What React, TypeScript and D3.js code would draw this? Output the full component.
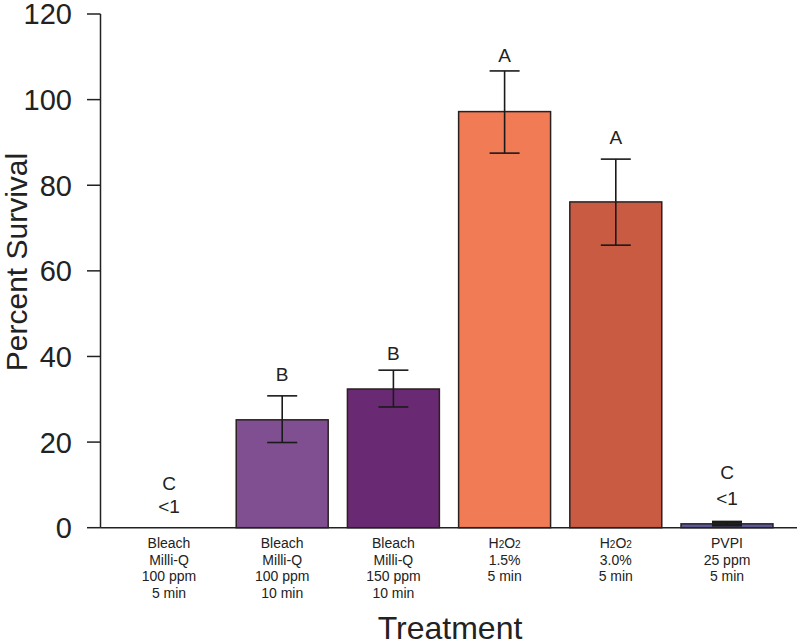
import React from "react";
import * as d3 from "d3";

const categories = ["b100_5", "b100_10", "b150_10", "h15", "h30", "pvpi"];
const labelLines = [
  ["Bleach", "Milli-Q", "100 ppm", "5 min"],
  ["Bleach", "Milli-Q", "100 ppm", "10 min"],
  ["Bleach", "Milli-Q", "150 ppm", "10 min"],
  ["H2O2", "1.5%", "5 min"],
  ["H2O2", "3.0%", "5 min"],
  ["PVPI", "25 ppm", "5 min"],
];
const values = [0, 25.2, 32.4, 97.2, 76.1, 0.9];
const errLow = [null, 19.9, 28.2, 87.5, 66.0, 0.6];
const errHigh = [null, 30.8, 36.8, 106.7, 86.1, 1.3];
const colors = ["#ffffff", "#7f4f92", "#6a2a73", "#f07b54", "#c95b43", "#5a5a9a"];
const letters = ["C", "B", "B", "A", "A", "C"];
const letterAt = [8.8, 34.3, 39.2, 108.8, 89.6, 11.3];
const subLabels = ["<1", "", "", "", "", "<1"];
const subLabelAt = [3.5, 0, 0, 0, 0, 5.2];
const yTicks = [0, 20, 40, 60, 80, 100, 120];

const FONT = "'Liberation Sans', Arial, Helvetica, sans-serif";

function Label({ text, x, y }: { text: string; x: number; y: number }) {
  if (text === "H2O2") {
    return (
      <text x={x} y={y} textAnchor="middle" fontSize={14} fontFamily={FONT} fill="#222">
        H<tspan fontSize={10} dy={0}>2</tspan>O<tspan fontSize={10}>2</tspan>
      </text>
    );
  }
  return (
    <text x={x} y={y} textAnchor="middle" fontSize={14} fontFamily={FONT} fill="#222">
      {text}
    </text>
  );
}

export default function App() {
  const W = 800;
  const H = 643;
  const x = d3.scaleBand<string>().domain(categories).range([101, 797]).paddingInner(0.173).paddingOuter(0.216);
  const y = d3.scaleLinear().domain([0, 120]).range([527.7, 14]);
  const axisX = 100.5;
  const bw = x.bandwidth();

  return (
    <svg width={W} height={H} style={{ position: "absolute", left: 0, top: 0, background: "#fff" }}>
      {/* bars */}
      {categories.map((c, i) =>
        values[i] > 0 ? (
          <rect
            key={c}
            x={x(c)!}
            y={y(values[i])}
            width={bw}
            height={y(0) - y(values[i])}
            fill={colors[i]}
            stroke="#2a2020"
            strokeWidth={1.5}
          />
        ) : null
      )}
      {/* error bars */}
      {categories.map((c, i) => {
        if (errLow[i] == null) return null;
        const cx = x(c)! + bw / 2;
        const lo = y(errLow[i] as number);
        const hi = y(errHigh[i] as number);
        const stroke = "#1a1a1a";
        const sw = i === 5 ? 3 : 1.6;
        return (
          <g key={"e" + c} stroke={stroke} strokeWidth={sw}>
            <line x1={cx} x2={cx} y1={lo} y2={hi} />
            <line x1={cx - 15} x2={cx + 15} y1={lo} y2={lo} />
            <line x1={cx - 15} x2={cx + 15} y1={hi} y2={hi} />
          </g>
        );
      })}
      {/* letters */}
      {categories.map((c, i) => {
        const cx = x(c)! + bw / 2 - (i === 0 ? 2 : 0);
        return (
          <g key={"l" + c} fontFamily={FONT} fill="#222" textAnchor="middle">
            <text x={cx} y={y(letterAt[i])} fontSize={19}>
              {letters[i]}
            </text>
            {subLabels[i] ? (
              <text x={cx} y={y(subLabelAt[i])} fontSize={19}>
                {subLabels[i]}
              </text>
            ) : null}
          </g>
        );
      })}
      {/* axes */}
      <line x1={axisX} x2={797} y1={y(0)} y2={y(0)} stroke="#222" strokeWidth={1.5} />
      <line x1={axisX} x2={axisX} y1={y(120)} y2={y(0)} stroke="#222" strokeWidth={1.5} />
      {yTicks.map((t) => (
        <g key={"t" + t}>
          <line x1={87} x2={axisX} y1={y(t)} y2={y(t)} stroke="#222" strokeWidth={1.5} />
          <text x={72} y={y(t)} dy="0.36em" textAnchor="end" fontSize={29} fontFamily={FONT} fill="#222">
            {t}
          </text>
        </g>
      ))}
      {/* x tick labels */}
      {categories.map((c, i) => {
        const cx = x(c)! + bw / 2 - (i === 0 ? 2 : 0);
        return (
          <g key={"x" + c}>
            {labelLines[i].map((ln, j) => (
              <Label key={j} text={ln} x={cx} y={548 + j * 16.7} />
            ))}
          </g>
        );
      })}
      {/* axis titles */}
      <text x={450} y={639} textAnchor="middle" fontSize={32} fontFamily={FONT} fill="#222">
        Treatment
      </text>
      <text
        transform={`translate(27, 262) rotate(-90)`}
        textAnchor="middle"
        fontSize={30}
        fontFamily={FONT}
        fill="#222"
      >
        Percent Survival
      </text>
    </svg>
  );
}
